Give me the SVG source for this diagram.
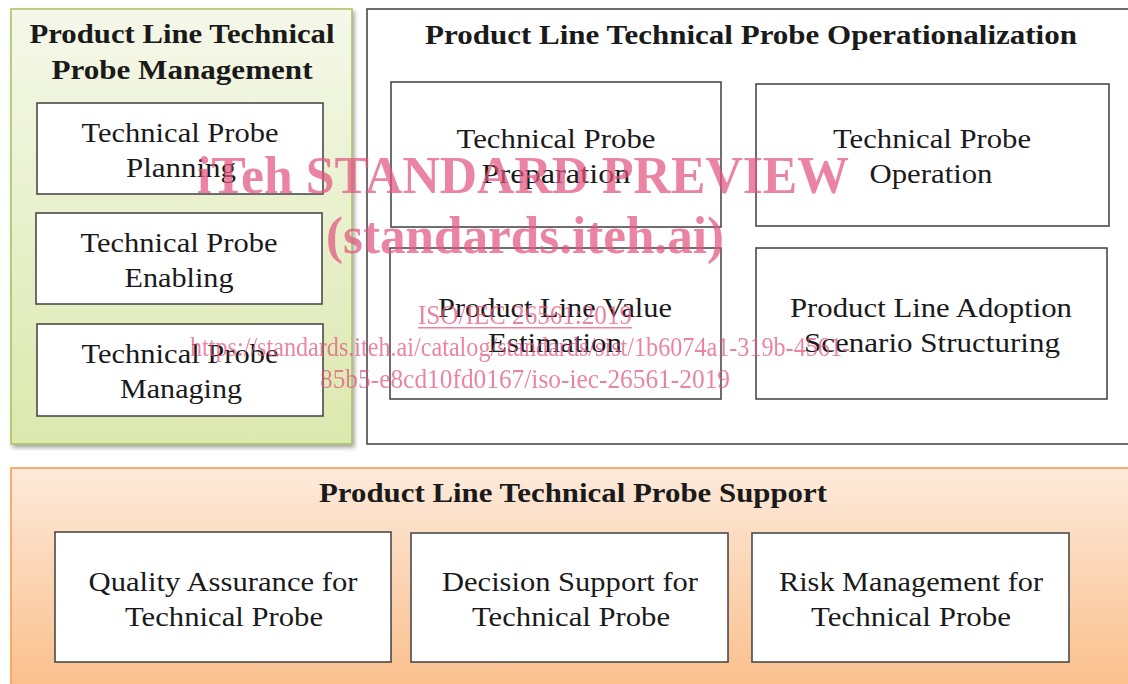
<svg xmlns="http://www.w3.org/2000/svg" width="1128" height="684" viewBox="0 0 1128 684">
<defs>
<linearGradient id="gGreen" x1="0" y1="0" x2="0" y2="1">
<stop offset="0" stop-color="#f5f8ea"/>
<stop offset="1" stop-color="#dce8ad"/>
</linearGradient>
<linearGradient id="gOrange" x1="0" y1="0" x2="0" y2="1">
<stop offset="0" stop-color="#fdeadb"/>
<stop offset="1" stop-color="#fabd88"/>
</linearGradient>
<filter id="sh" x="-5%" y="-5%" width="115%" height="115%">
<feDropShadow dx="2" dy="3" stdDeviation="2" flood-color="#000" flood-opacity="0.35"/>
</filter>
</defs>
<style>
.box{fill:#fff;stroke:#3f3f3f;stroke-width:1.5}
.t{font-family:"Liberation Serif","DejaVu Serif",serif;font-size:28px;fill:#1a1a1a;text-anchor:middle}
.h{font-family:"Liberation Serif","DejaVu Serif",serif;font-size:28px;font-weight:bold;fill:#1a1a1a;text-anchor:middle}
.wm{font-family:"Liberation Serif",serif;fill:#e2557f;opacity:0.72;text-anchor:middle}
</style>
<rect width="1128" height="684" fill="#fff"/>

<g id="management">
<rect x="11" y="9" width="341" height="435" fill="url(#gGreen)" stroke="#a4c05e" stroke-width="1.5" filter="url(#sh)"/>
<text class="h" x="182" y="43" textLength="305" lengthAdjust="spacingAndGlyphs">Product Line Technical</text>
<text class="h" x="182" y="79" textLength="261" lengthAdjust="spacingAndGlyphs">Probe Management</text>
</g>
<g id="planning">
<rect class="box" x="37" y="103" width="286" height="91"/>
<text class="t" x="180" y="142" textLength="197" lengthAdjust="spacingAndGlyphs">Technical Probe</text>
<text class="t" x="181" y="177" textLength="110" lengthAdjust="spacingAndGlyphs">Planning</text>
</g>
<g id="enabling">
<rect class="box" x="36" y="213" width="286" height="91"/>
<text class="t" x="179" y="252" textLength="197" lengthAdjust="spacingAndGlyphs">Technical Probe</text>
<text class="t" x="179" y="287" textLength="109" lengthAdjust="spacingAndGlyphs">Enabling</text>
</g>
<g id="managing">
<rect class="box" x="37" y="324" width="286" height="92"/>
<text class="t" x="180" y="363" textLength="197" lengthAdjust="spacingAndGlyphs">Technical Probe</text>
<text class="t" x="181" y="398" textLength="122" lengthAdjust="spacingAndGlyphs">Managing</text>
</g>

<g id="operationalization">
<rect x="367" y="9" width="770" height="435" fill="#fff" stroke="#3f3f3f" stroke-width="1.5"/>
<text class="h" x="751" y="44" textLength="652" lengthAdjust="spacingAndGlyphs">Product Line Technical Probe Operationalization</text>
</g>
<g id="preparation">
<rect class="box" x="391" y="82" width="330" height="145"/>
<text class="t" x="556" y="148" textLength="199" lengthAdjust="spacingAndGlyphs">Technical Probe</text>
<text class="t" x="556" y="183" textLength="149" lengthAdjust="spacingAndGlyphs">Preparation</text>
</g>
<g id="operation">
<rect class="box" x="756" y="84" width="353" height="142"/>
<text class="t" x="932" y="148" textLength="198" lengthAdjust="spacingAndGlyphs">Technical Probe</text>
<text class="t" x="931" y="183" textLength="123" lengthAdjust="spacingAndGlyphs">Operation</text>
</g>
<g id="value">
<rect class="box" x="390" y="248" width="331" height="151"/>
<text class="t" x="555" y="317" textLength="234" lengthAdjust="spacingAndGlyphs">Product Line Value</text>
<text class="t" x="555" y="352" textLength="134" lengthAdjust="spacingAndGlyphs">Estimation</text>
</g>
<g id="adoption">
<rect class="box" x="756" y="248" width="351" height="151"/>
<text class="t" x="931" y="317" textLength="282" lengthAdjust="spacingAndGlyphs">Product Line Adoption</text>
<text class="t" x="932" y="352" textLength="256" lengthAdjust="spacingAndGlyphs">Scenario Structuring</text>
</g>

<g id="support">
<rect x="11" y="468" width="1130" height="230" fill="url(#gOrange)" stroke="#f79646" stroke-width="1.5"/>
<text class="h" x="573" y="502" textLength="508" lengthAdjust="spacingAndGlyphs">Product Line Technical Probe Support</text>
</g>
<g id="quality">
<rect class="box" x="55" y="532" width="336" height="130"/>
<text class="t" x="223" y="591" textLength="269" lengthAdjust="spacingAndGlyphs">Quality Assurance for</text>
<text class="t" x="224" y="626" textLength="198" lengthAdjust="spacingAndGlyphs">Technical Probe</text>
</g>
<g id="decision">
<rect class="box" x="411" y="533" width="317" height="129"/>
<text class="t" x="570" y="591" textLength="256" lengthAdjust="spacingAndGlyphs">Decision Support for</text>
<text class="t" x="571" y="626" textLength="198" lengthAdjust="spacingAndGlyphs">Technical Probe</text>
</g>
<g id="risk">
<rect class="box" x="752" y="533" width="317" height="129"/>
<text class="t" x="911" y="591" textLength="264" lengthAdjust="spacingAndGlyphs">Risk Management for</text>
<text class="t" x="911" y="626" textLength="200" lengthAdjust="spacingAndGlyphs">Technical Probe</text>
</g>

<g id="connectors"></g>

<g id="watermark">
<text class="wm" x="523" y="193" font-size="52" font-weight="bold" textLength="652" lengthAdjust="spacingAndGlyphs">iTeh STANDARD PREVIEW</text>
<text class="wm" x="525" y="253" font-size="52" font-weight="bold" textLength="398" lengthAdjust="spacingAndGlyphs">(standards.iteh.ai)</text>
<text class="wm" x="525" y="324" font-size="27" textLength="214" lengthAdjust="spacingAndGlyphs">ISO/IEC 26561:2019</text>
<rect x="418" y="327" width="214" height="1.5" fill="#e2557f" opacity="0.72"/>
<text class="wm" x="520" y="356" font-size="27" textLength="660" lengthAdjust="spacingAndGlyphs">https://standards.iteh.ai/catalog/standards/sist/1b6074a1-319b-4561-</text>
<text class="wm" x="525" y="388" font-size="27" textLength="410" lengthAdjust="spacingAndGlyphs">85b5-e8cd10fd0167/iso-iec-26561-2019</text>
</g>
</svg>
